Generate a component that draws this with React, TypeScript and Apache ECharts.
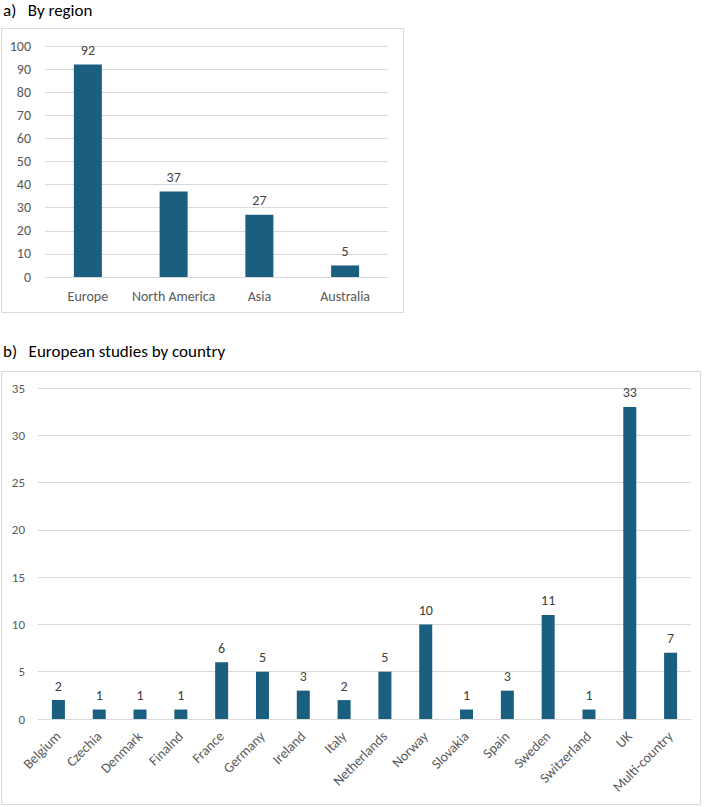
import React, { useEffect, useRef } from "react";
import * as echarts from "echarts";

const regionCategories = ["Europe", "North America", "Asia", "Australia"];
const regionValues = [92, 37, 27, 5];

const countryCategories = [
  "Belgium", "Czechia", "Denmark", "Finalnd", "France", "Germany", "Ireland", "Italy",
  "Netherlands", "Norway", "Slovakia", "Spain", "Sweden", "Switzerland", "UK", "Multi-country",
];
const countryValues = [2, 1, 1, 1, 6, 5, 3, 2, 5, 10, 1, 3, 11, 1, 33, 7];

const titleA = "a)   By region";
const titleB = "b)   European studies by country";

const FONT = "Carlito, Lato, 'Open Sans', sans-serif";
const BAR = "#1a5e80";
const GRID = "#d9d9d9";
const AXIS_TXT = "#595959";
const LBL_TXT = "#404040";

export default function App() {
  const ref = useRef<HTMLDivElement>(null);
  useEffect(() => {
    document.body.style.margin = "0";
    if (!ref.current) return;
    const chart = echarts.init(ref.current, undefined, { renderer: "svg" });
    chart.setOption({
      animation: false,
      backgroundColor: "#ffffff",
      textStyle: { fontFamily: FONT },
      title: [
        { text: titleA, left: 3, top: 2, padding: 0, textStyle: { fontFamily: FONT, fontSize: 17, fontWeight: "normal", color: "#000" } },
        { text: titleB, left: 3, top: 343, padding: 0, textStyle: { fontFamily: FONT, fontSize: 17, fontWeight: "normal", color: "#000" } },
      ],
      graphic: [
        { type: "rect", shape: { x: 1.5, y: 28.5, width: 402, height: 284 }, style: { fill: "none", stroke: GRID, lineWidth: 1 }, silent: true },
        { type: "rect", shape: { x: 1.5, y: 371.5, width: 699, height: 433 }, style: { fill: "none", stroke: GRID, lineWidth: 1 }, silent: true },
      ],
      grid: [
        { left: 45, right: 320, top: 46, bottom: 530, containLabel: false },
        { left: 38, right: 17, top: 388, bottom: 88, containLabel: false },
      ],
      xAxis: [
        {
          gridIndex: 0, type: "category", data: regionCategories,
          axisLine: { lineStyle: { color: GRID } }, axisTick: { show: false },
          axisLabel: { color: AXIS_TXT, fontSize: 14, margin: 12, fontFamily: FONT, interval: 0 },
        },
        {
          gridIndex: 1, type: "category", data: countryCategories,
          axisLine: { lineStyle: { color: GRID } }, axisTick: { show: false },
          axisLabel: { color: AXIS_TXT, fontSize: 14, margin: 15, rotate: 45, fontFamily: FONT, interval: 0 },
        },
      ],
      yAxis: [
        {
          gridIndex: 0, type: "value", min: 0, max: 100, interval: 10,
          axisLine: { show: false }, axisTick: { show: false },
          splitLine: { lineStyle: { color: GRID } },
          axisLabel: { color: AXIS_TXT, fontSize: 14, margin: 14, fontFamily: FONT },
        },
        {
          gridIndex: 1, type: "value", min: 0, max: 35, interval: 5,
          axisLine: { show: false }, axisTick: { show: false },
          splitLine: { lineStyle: { color: GRID } },
          axisLabel: { color: AXIS_TXT, fontSize: 13, margin: 13, fontFamily: FONT },
        },
      ],
      series: [
        {
          type: "bar", xAxisIndex: 0, yAxisIndex: 0, data: regionValues, barWidth: 28,
          itemStyle: { color: BAR },
          label: { show: true, position: "top", distance: 7, color: LBL_TXT, fontSize: 14, fontFamily: FONT },
        },
        {
          type: "bar", xAxisIndex: 1, yAxisIndex: 1, data: countryValues, barWidth: 13,
          itemStyle: { color: BAR },
          label: { show: true, position: "top", distance: 7, color: LBL_TXT, fontSize: 14, fontFamily: FONT },
        },
      ],
    });
    return () => chart.dispose();
  }, []);
  return <div ref={ref} style={{ width: 708, height: 807 }} />;
}
